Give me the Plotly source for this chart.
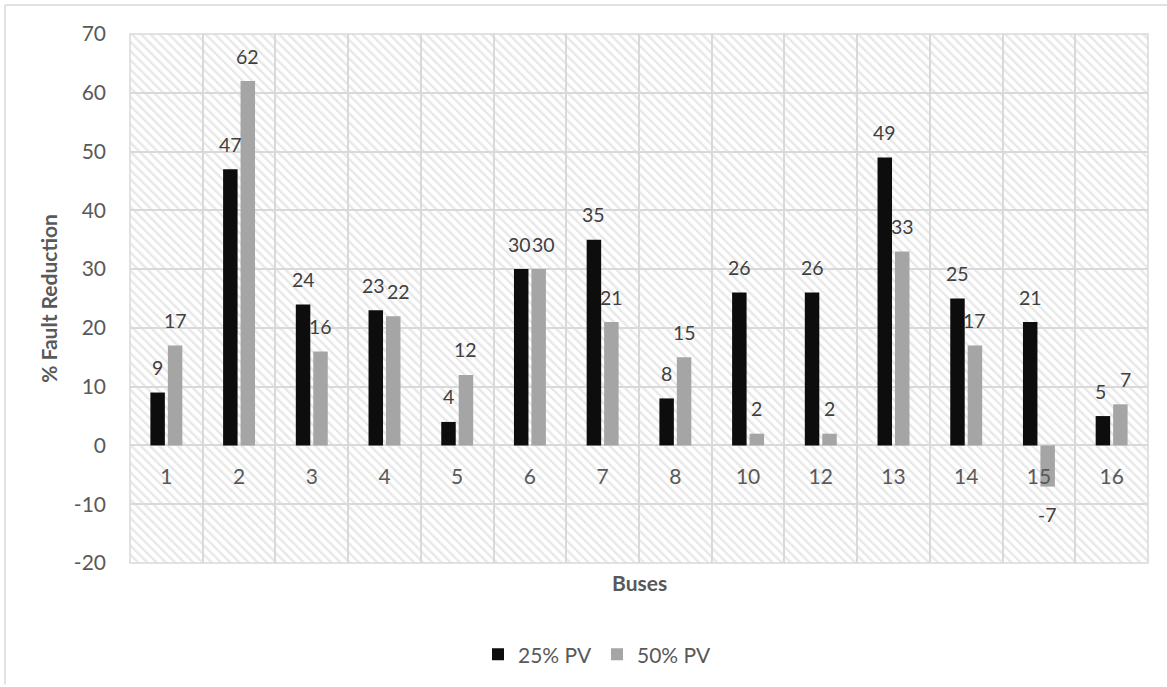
import base64
import plotly.graph_objects as go

# Fault-current reduction per bus for two PV penetration levels
buses = ["1", "2", "3", "4", "5", "6", "7", "8", "10", "12", "13", "14", "15", "16"]
pv25 = [9, 47, 24, 23, 4, 30, 35, 8, 26, 26, 49, 25, 21, 5]
pv50 = [17, 62, 16, 22, 12, 30, 21, 15, 2, 2, 33, 17, -7, 7]
y_ticks = list(range(-20, 71, 10))

series = [("25% PV", pv25, "#0d0d0d"), ("50% PV", pv50, "#a5a5a5")]

W, H = 1167, 687
ML, MR, MT, MB = 130, 19, 34, 122
PW, PH = W - ML - MR, H - MT - MB
Y_MIN, Y_MAX = y_ticks[0], y_ticks[-1]
BARGAP, BARGROUPGAP = 0.52, 0.17

GRID = "#d9d9d9"
TXT = "#595959"
FONT = "Lato, 'Open Sans', sans-serif"
FS = 21

# diagonal hatch used as the plot-area fill
hatch_svg = (
    f"<svg xmlns='http://www.w3.org/2000/svg' width='{PW}' height='{PH}'>"
    "<defs><pattern id='h' width='6.5' height='6.5' patternUnits='userSpaceOnUse' "
    "patternTransform='rotate(-45)'>"
    "<rect x='0' y='0' width='2.4' height='6.5' fill='#e8e8e8'/></pattern></defs>"
    f"<rect width='{PW}' height='{PH}' fill='url(#h)'/></svg>"
)
hatch_uri = "data:image/svg+xml;base64," + base64.b64encode(hatch_svg.encode()).decode()

fig = go.Figure()
for name, vals, color in series:
    fig.add_trace(go.Bar(x=buses, y=vals, name=name, marker=dict(color=color, line_width=0)))

# value labels above positive bars and below negative ones;
# labels of near-equal neighbours are nudged apart so they don't collide
slot = (1 - BARGAP) / len(series)
annotations = []
for k, (name, vals, color) in enumerate(series):
    off = -((1 - BARGAP) / 2) + slot * (k + 0.5)
    for j, v in enumerate(vals):
        close = abs(pv25[j] - pv50[j]) < 4
        annotations.append(dict(
            x=j + off, y=v, xref="x", yref="y", text=str(v), showarrow=False,
            yanchor="middle", yshift=25 if v >= 0 else -28,
            xshift=(-2 if k == 0 else 5) if close else 0,
            font=dict(size=19.5, color="#404040", family=FONT),
        ))

annotations.append(dict(
    x=0.5, y=-(585 - (MT + PH)) / PH, xref="paper", yref="paper",
    text="<b>Buses</b>", showarrow=False, yanchor="middle",
    font=dict(size=21, color=TXT, family=FONT),
))

fig.update_layout(
    width=W, height=H,
    margin=dict(l=ML, r=MR, t=MT, b=MB),
    paper_bgcolor="white", plot_bgcolor="rgba(0,0,0,0)",
    barmode="group", bargap=BARGAP, bargroupgap=BARGROUPGAP,
    font=dict(family=FONT, size=FS, color=TXT),
    showlegend=True,
    legend=dict(orientation="h", x=(478 - ML) / PW, xanchor="left",
                y=-(657 - (MT + PH)) / PH, yanchor="middle",
                font=dict(size=FS, color=TXT, family=FONT), itemwidth=30),
    annotations=annotations,
    images=[dict(source=hatch_uri, xref="paper", yref="paper", x=0, y=1,
                 sizex=1, sizey=1, xanchor="left", yanchor="top",
                 sizing="stretch", layer="below")],
    shapes=[
        dict(type="rect", xref="paper", yref="paper", x0=0, x1=1, y0=0, y1=1,
             line=dict(color=GRID, width=1.5), layer="above"),
        dict(type="line", xref="paper", yref="paper",
             x0=(5 - ML) / PW, x1=(W - ML) / PW, y0=(H - 5 - MB) / PH, y1=(H - 5 - MB) / PH,
             line=dict(color=GRID, width=1.5)),
        dict(type="line", xref="paper", yref="paper",
             x0=(5 - ML) / PW, x1=(5 - ML) / PW, y0=-MB / PH, y1=(H - 5 - MB) / PH,
             line=dict(color=GRID, width=1.5)),
    ],
)

fig.update_yaxes(
    range=[Y_MIN, Y_MAX], tickmode="array", tickvals=y_ticks,
    ticktext=[str(v) for v in y_ticks],
    showgrid=True, gridcolor=GRID, gridwidth=1.5,
    zeroline=False, showline=False, ticks="", ticklabelstandoff=23,
    tickfont=dict(size=FS, color=TXT),
    title=dict(text="<b>% Fault Reduction</b>", font=dict(size=21, color=TXT), standoff=10),
)
fig.update_xaxes(
    type="category", categoryorder="array", categoryarray=buses,
    tickson="boundaries", showgrid=True, gridcolor=GRID, gridwidth=1.5,
    showline=False, zeroline=False, ticks="",
    anchor="free", position=(0 - Y_MIN) / (Y_MAX - Y_MIN), ticklabelstandoff=17,
    tickfont=dict(size=FS, color=TXT),
)

fig.write_html("out.html")
